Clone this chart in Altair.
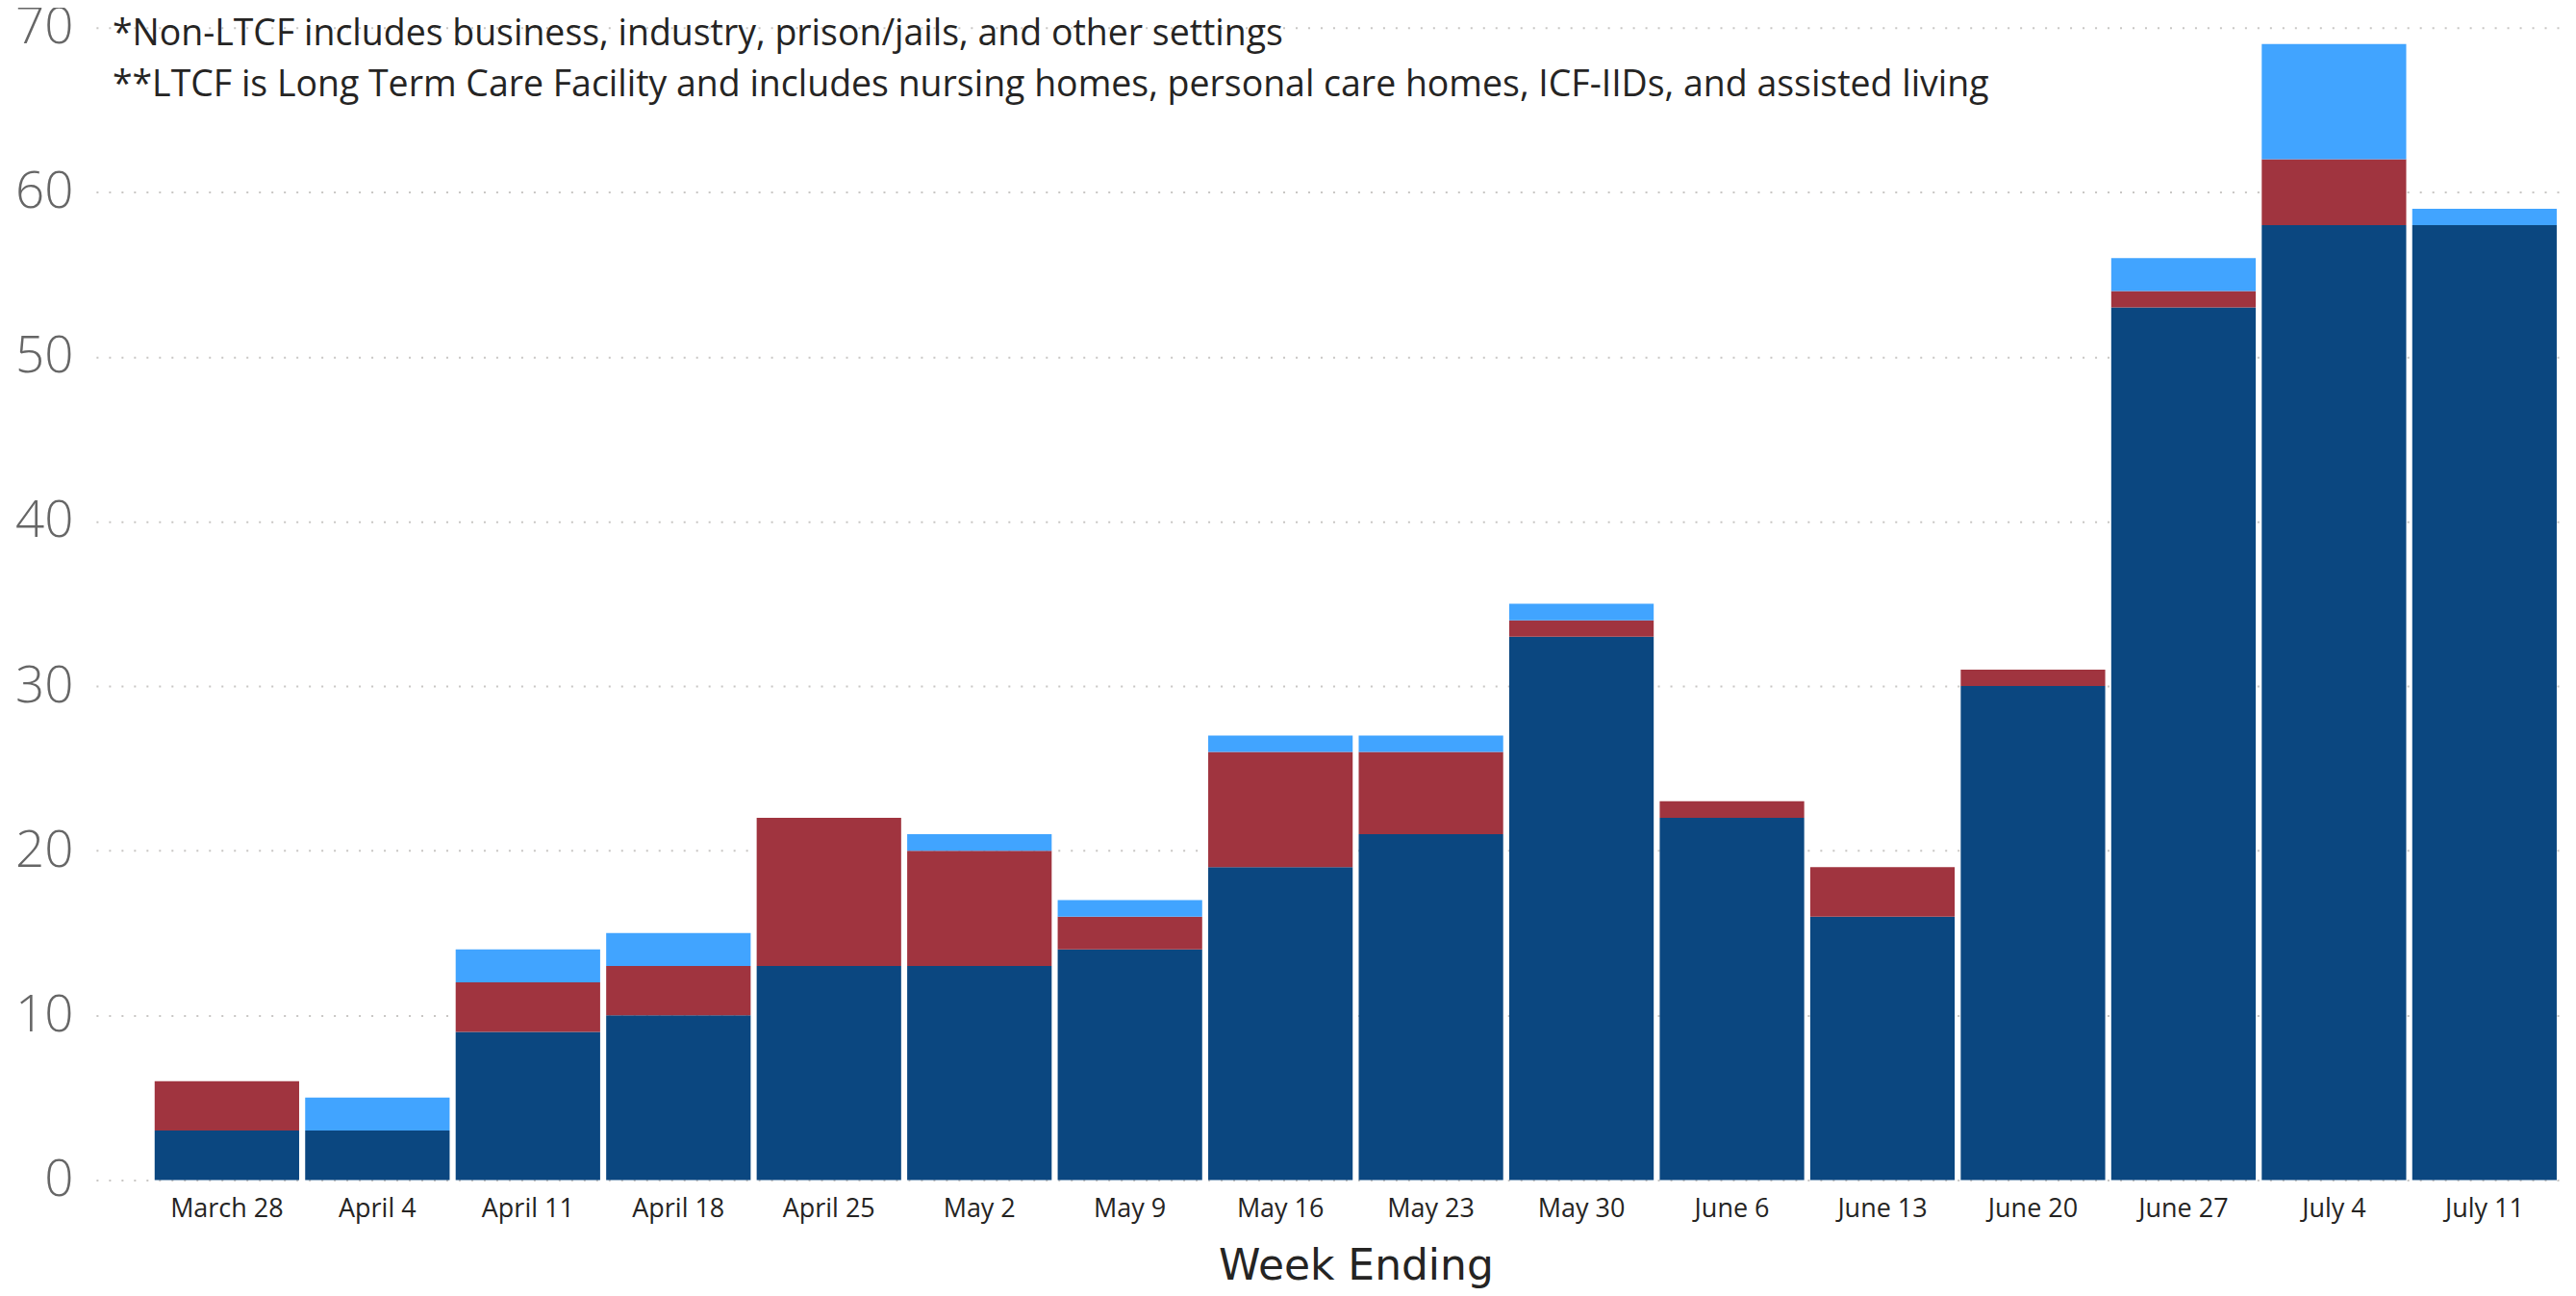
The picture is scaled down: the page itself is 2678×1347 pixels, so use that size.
import altair as alt
import pandas as pd

weeks = ["March 28", "April 4", "April 11", "April 18", "April 25", "May 2",
         "May 9", "May 16", "May 23", "May 30", "June 6", "June 13",
         "June 20", "June 27", "July 4", "July 11"]
non_ltcf = [3, 3, 9, 10, 13, 13, 14, 19, 21, 33, 22, 16, 30, 53, 58, 58]
ltcf = [3, 0, 3, 3, 9, 7, 2, 7, 5, 1, 1, 3, 1, 1, 4, 0]
other = [0, 2, 2, 2, 0, 1, 1, 1, 1, 1, 0, 0, 0, 2, 7, 1]
series_names = ["Non-LTCF*", "LTCF**", "Other"]
series_colors = ["#0B4780", "#A0343F", "#41A4FF"]
y_ticks = [0, 10, 20, 30, 40, 50, 60, 70]
note_lines = [
    "*Non-LTCF includes business, industry, prison/jails, and other settings",
    "**LTCF is Long Term Care Facility and includes nursing homes, personal care homes, ICF-IIDs, and assisted living",
]

rows = []
for i, w in enumerate(weeks):
    for k, vals in enumerate([non_ltcf, ltcf, other]):
        rows.append({"week": w, "series": series_names[k], "value": vals[i], "order": k})
df = pd.DataFrame(rows)

FONT = "Open Sans"

bars = alt.Chart(df).mark_bar().encode(
    x=alt.X("week:N", sort=weeks,
            scale=alt.Scale(paddingInner=0.04, paddingOuter=0.233, align=0.835),
            axis=alt.Axis(title="Week Ending", labelAngle=0, ticks=False, domain=False,
                          grid=False, labelFontSize=27, labelFont=FONT, labelColor="#252423",
                          labelPadding=17, titleFont="DejaVu Sans", titleFontSize=44,
                          titleFontWeight="normal", titleColor="#252423",
                          titleX=1311, titleY=103, titleBaseline="alphabetic")),
    y=alt.Y("value:Q", stack="zero",
            scale=alt.Scale(domain=[0, 70], nice=False),
            axis=alt.Axis(values=y_ticks, title=None, ticks=False, domain=False, grid=True,
                          gridDash=[2, 11], gridColor="#C8C6C4", gridWidth=2,
                          labelFont=FONT, labelFontSize=53, labelFontWeight=300,
                          labelColor="#666666", labelPadding=24)),
    color=alt.Color("series:N", scale=alt.Scale(domain=series_names, range=series_colors),
                    legend=None),
    order=alt.Order("order:Q"),
)

note1 = alt.Chart(pd.DataFrame({"t": [note_lines[0]]})).mark_text(
    align="left", baseline="middle", fontSize=37.5, font=FONT, color="#252423"
).encode(x=alt.value(17), y=alt.value(7), text="t:N")

note2 = alt.Chart(pd.DataFrame({"t": [note_lines[1]]})).mark_text(
    align="left", baseline="middle", fontSize=37.5, font=FONT, color="#252423"
).encode(x=alt.value(17), y=alt.value(60), text="t:N")

chart = alt.layer(bars, note1, note2).properties(
    width=2573, height=1199,
    autosize=alt.AutoSizeParams(type="none"),
    padding={"left": 92, "top": 20, "right": 0, "bottom": 112},
    background="white",
).configure_view(stroke=None)

chart.save("out.html", embed_options={"renderer": "svg", "actions": False})
